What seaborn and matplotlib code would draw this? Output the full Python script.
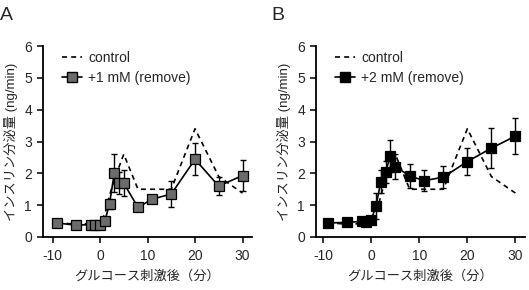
import numpy as np
import pandas as pd
import matplotlib
matplotlib.use("Agg")
import matplotlib.pyplot as plt
from matplotlib.lines import Line2D
import seaborn as sns

# ---- data ----
time_ctrl = [-9, -5, -2, -1, 0, 1, 2, 3, 5, 8, 15, 20, 25, 30]
ctrl_vals = [0.45, 0.4, 0.42, 0.42, 0.48, 0.7, 1.3, 1.8, 2.6, 1.5, 1.5, 3.4, 1.9, 1.38]

time_a = [-9, -5, -2, -1, 0, 1, 2, 3, 4, 5, 8, 11, 15, 20, 25, 30]
vals_a = [0.44, 0.37, 0.39, 0.39, 0.37, 0.49, 1.04, 2.0, 1.69, 1.69, 0.93, 1.19, 1.35, 2.44, 1.6, 1.93]
err_a = [0.03, 0.03, 0.03, 0.03, 0.03, 0.05, 0.15, 0.6, 0.35, 0.4, 0.08, 0.1, 0.41, 0.5, 0.27, 0.5]

time_b = [-9, -5, -2, -1, 0, 1, 2, 3, 4, 5, 8, 11, 15, 20, 25, 30]
vals_b = [0.44, 0.46, 0.49, 0.46, 0.54, 0.98, 1.74, 2.05, 2.55, 2.21, 1.92, 1.77, 1.88, 2.37, 2.79, 3.17]
err_b = [0.03, 0.03, 0.05, 0.05, 0.05, 0.4, 0.35, 0.35, 0.5, 0.4, 0.37, 0.32, 0.35, 0.42, 0.62, 0.57]

x_ticks = [-10, 0, 10, 20, 30]
y_ticks = [0, 1, 2, 3, 4, 5, 6]
labels_a = ("control", "+1 mM (remove)")
labels_b = ("control", "+2 mM (remove)")
panel_letters = ("A", "B")
xlabel = "グルコース刺激後（分）"
ylabel = "インスリン分泌量 (ng/min)"

sns.set_style("ticks")
plt.rcParams['font.family'] = ['Liberation Sans', 'Noto Sans CJK JP']
plt.rcParams['axes.unicode_minus'] = False

fig = plt.figure(figsize=(5.29, 2.9), dpi=100)
ax_a = fig.add_axes([43 / 529, 53 / 290, 209 / 529, 191 / 290])
ax_b = fig.add_axes([316 / 529, 53 / 290, 209 / 529, 191 / 290])

ctrl_df = pd.DataFrame({"t": time_ctrl, "v": ctrl_vals})

def draw(ax, t, v, e, face, labels, xlim):
    sns.lineplot(data=ctrl_df, x="t", y="v", ax=ax, color="black",
                 linestyle=(0, (3, 2.5)), linewidth=1.2, legend=False)
    ax.errorbar(t, v, yerr=e, fmt="none", ecolor="black", elinewidth=1.0,
                capsize=2.2, capthick=1.0, zorder=3)
    df = pd.DataFrame({"t": t, "v": v})
    sns.lineplot(data=df, x="t", y="v", ax=ax, color="black", linewidth=1.2,
                 marker="s", markersize=6.8, markerfacecolor=face,
                 markeredgecolor="black", markeredgewidth=0.9, legend=False,
                 zorder=4)
    ax.set_xlim(*xlim)
    ax.set_ylim(0, 6)
    ax.set_xticks(x_ticks)
    ax.set_yticks(y_ticks)
    ax.tick_params(labelsize=10, width=1.1, length=4, pad=4, direction="out", color="black")
    ax.tick_params(axis="x", pad=5)
    for s in ("left", "bottom"):
        ax.spines[s].set_linewidth(1.3)
        ax.spines[s].set_color("black")
    sns.despine(ax=ax)
    ax.set_xlabel(xlabel, fontsize=9.5, labelpad=5)
    ax.set_ylabel(ylabel, fontsize=9.5, labelpad=4)
    handles = [
        Line2D([], [], color="black", linestyle=(0, (3, 2.5)), linewidth=1.2),
        Line2D([], [], color="black", linewidth=1.2, marker="s", markersize=6.8,
               markerfacecolor=face, markeredgecolor="black"),
    ]
    ax.legend(handles, labels, loc="upper left", bbox_to_anchor=(0.091, 0.975),
              frameon=False, fontsize=10, handlelength=1.45, handletextpad=0.45,
              labelspacing=0.45, borderaxespad=0.0, borderpad=0.0)

draw(ax_a, time_a, vals_a, err_a, "#6b6b6b", labels_a, (-12, 32))
draw(ax_b, time_b, vals_b, err_b, "black", labels_b, (-11.5, 32))

fig.text(0.0, 0.975, panel_letters[0], fontsize=14, va="top", ha="left")
fig.text(271 / 529, 0.975, panel_letters[1], fontsize=14, va="top", ha="left")

fig.savefig("out.png", dpi=100)
